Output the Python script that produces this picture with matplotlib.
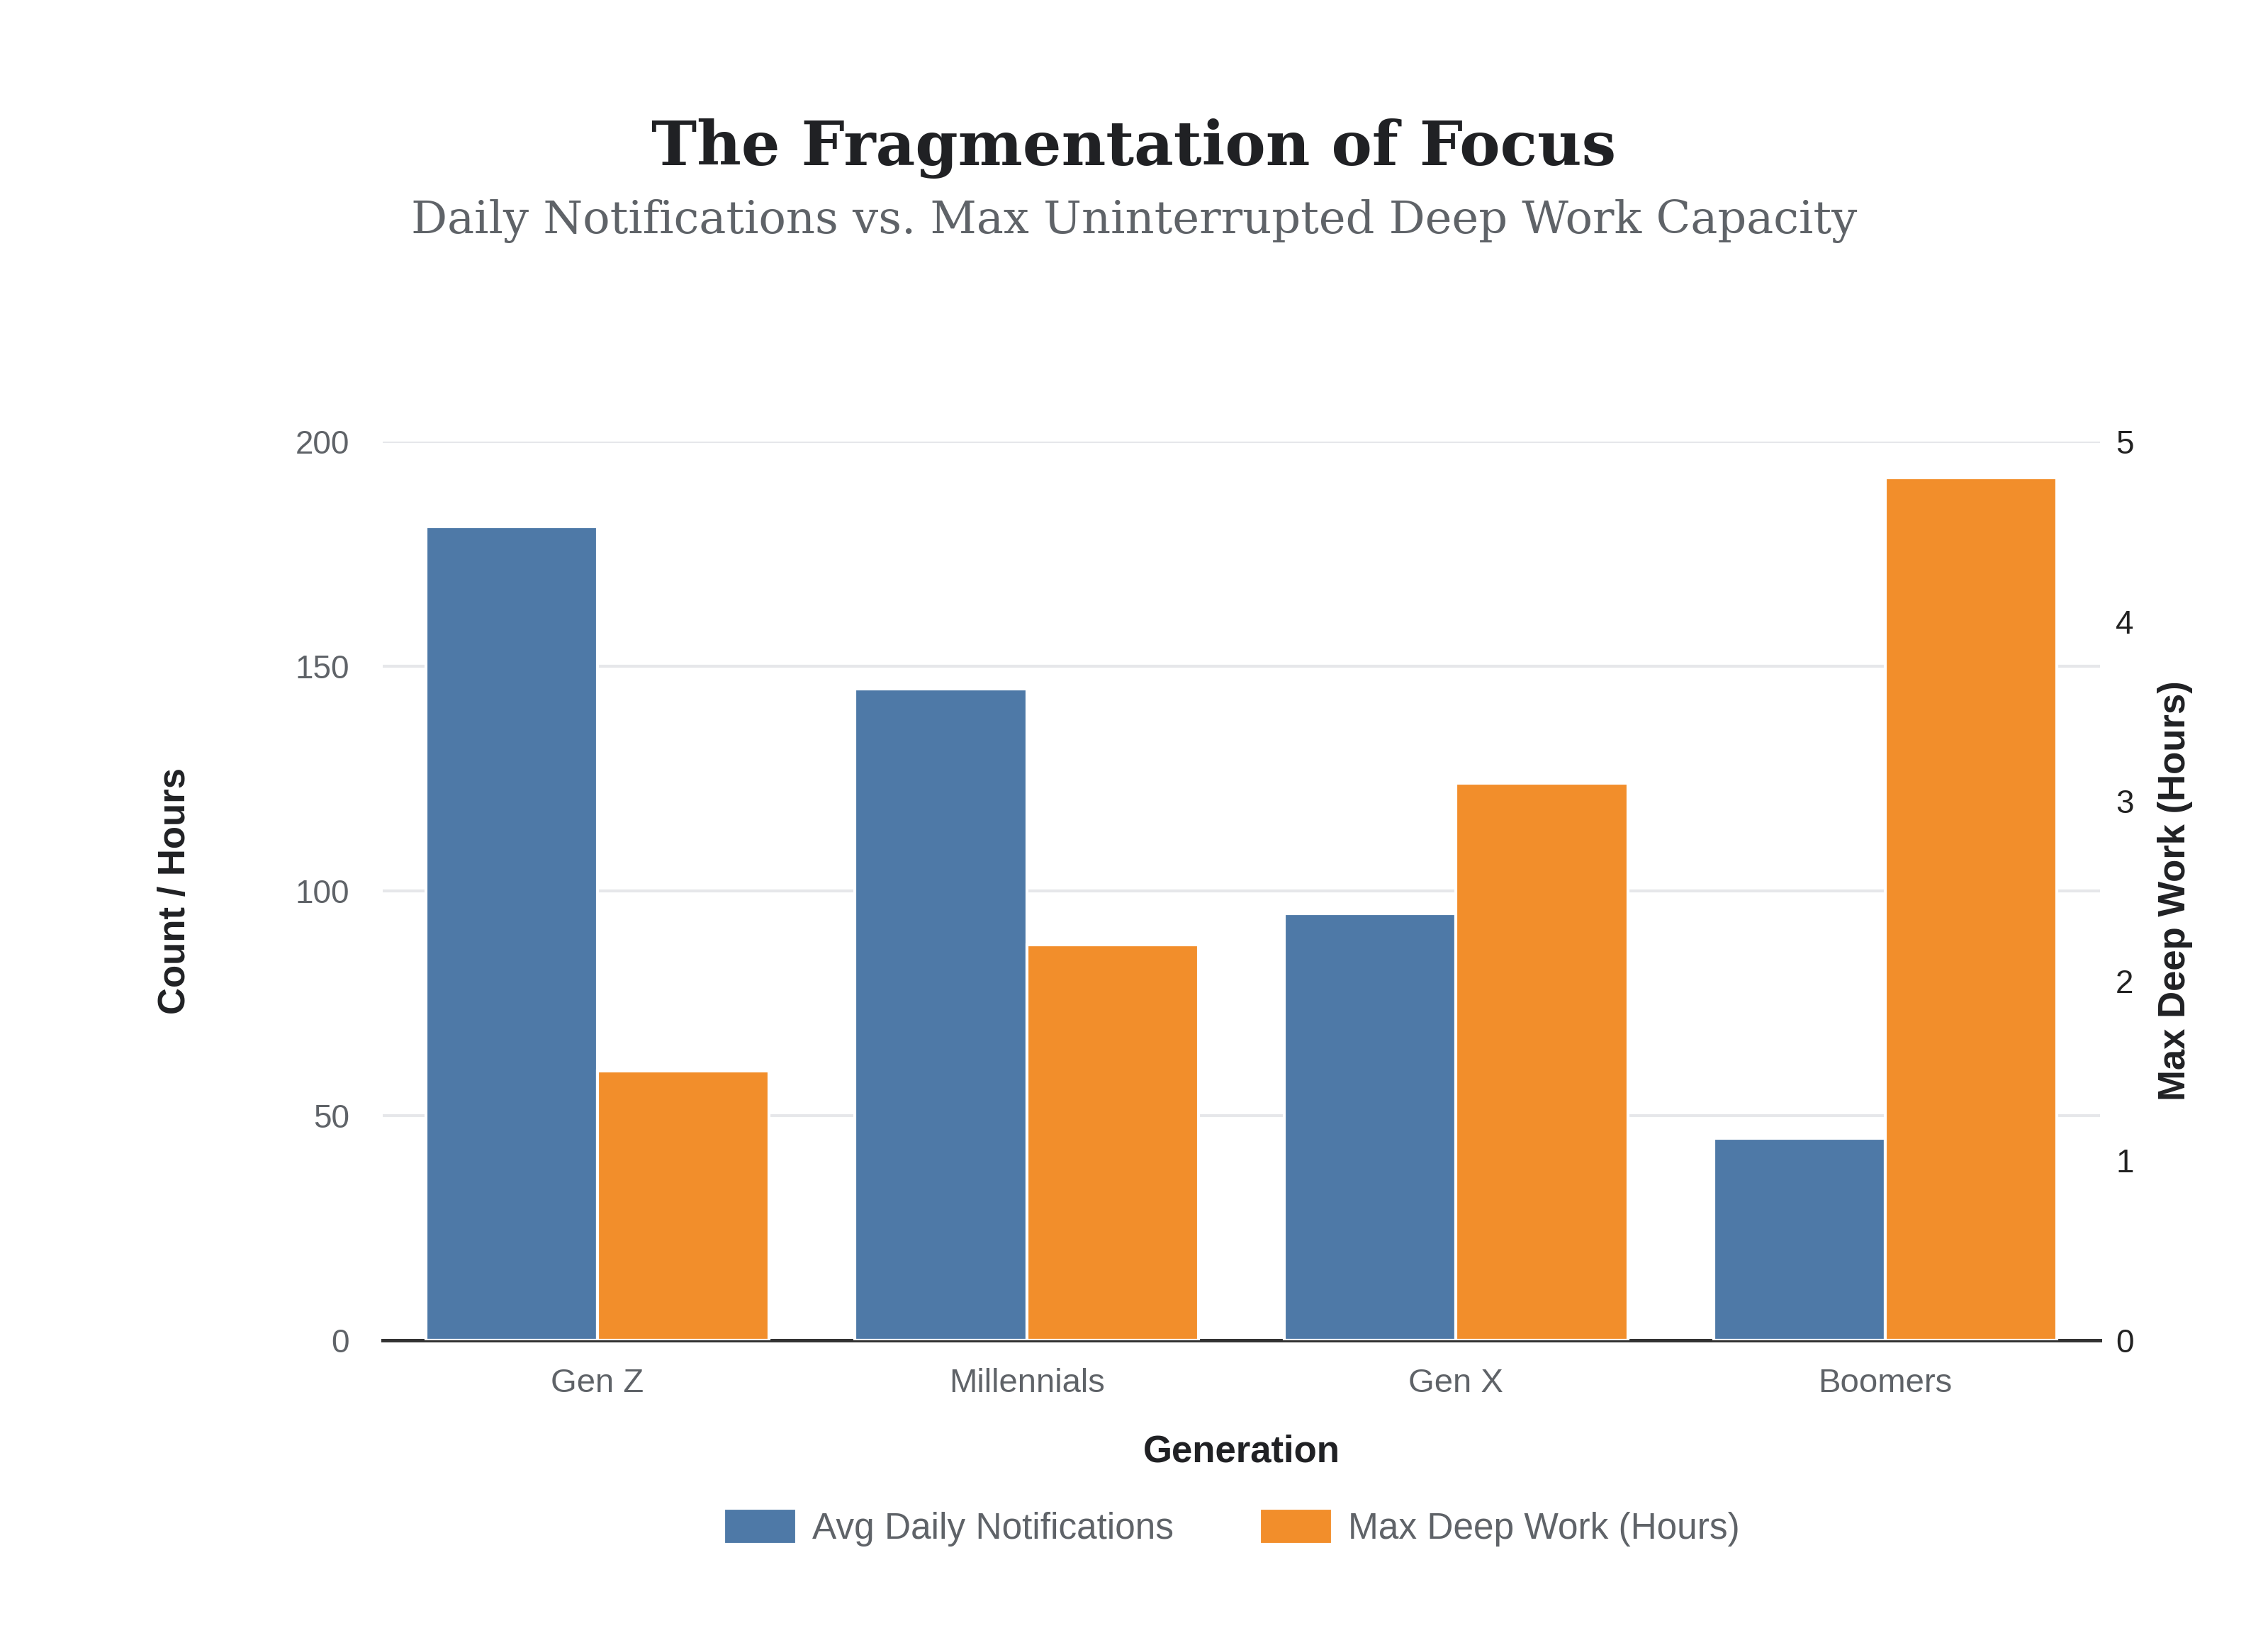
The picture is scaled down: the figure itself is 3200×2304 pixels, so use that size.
import numpy as np
import matplotlib
matplotlib.use("Agg")
import matplotlib.pyplot as plt

# data
generations = ["Gen Z", "Millennials", "Gen X", "Boomers"]
notifications = [181, 145, 95, 45]
deep_work_hours = [1.5, 2.2, 3.1, 4.8]

blue = "#4e79a7"
orange = "#f28e2b"
grey_txt = "#5f6368"
dark_txt = "#202124"

plt.rcParams["font.family"] = ["Liberation Sans", "DejaVu Sans"]

fig = plt.figure(figsize=(16, 11.52), dpi=200)
ax = fig.add_axes([540 / 3200, 1 - 1891 / 2304, (2963 - 540) / 3200, (1891 - 623) / 2304])
ax2 = ax.twinx()

x = np.arange(len(generations))
b1 = ax.bar(x - 0.2, notifications, 0.4, color=blue, edgecolor="white", linewidth=1.5,
            label="Avg Daily Notifications", zorder=3)
b2 = ax2.bar(x + 0.2, deep_work_hours, 0.4, color=orange, edgecolor="white", linewidth=1.5,
             label="Max Deep Work (Hours)", zorder=3)

ax.set_xlim(-0.5, 3.5)
ax.set_ylim(0, 200)
ax2.set_ylim(0, 5)
ax.set_yticks([0, 50, 100, 150, 200])
ax2.set_yticks([0, 1, 2, 3, 4, 5])

ax.set_axisbelow(True)
ax.grid(axis="y", color="#e6e7ea", linewidth=1.5)
ax.grid(axis="x", visible=False)

for a in (ax, ax2):
    for s in ("top", "left", "right"):
        a.spines[s].set_visible(False)
ax2.spines["bottom"].set_visible(False)
ax.spines["bottom"].set_color("#333333")
ax.spines["bottom"].set_linewidth(1.8)

ax.set_xticks(x)
ax.set_xticklabels(generations)
ax.tick_params(axis="x", length=0, pad=14, labelsize=17, labelcolor=grey_txt)
ax.tick_params(axis="y", length=0, pad=17, labelsize=16.5, labelcolor=grey_txt)
ax2.tick_params(axis="y", length=0, pad=8, labelsize=16.5, labelcolor="#222222")

ax.set_xlabel("Generation", fontsize=19, fontweight="bold", color=dark_txt, labelpad=18)
ax.set_ylabel("Count / Hours", fontsize=19, fontweight="bold", color=dark_txt, labelpad=52)
ax2.set_ylabel("Max Deep Work (Hours)", fontsize=19, fontweight="bold", color=dark_txt, labelpad=12)

fig.text(0.5, 1 - 210 / 2304, "The Fragmentation of Focus", ha="center", va="center",
         fontsize=31, fontweight="bold", color=dark_txt, family=["DejaVu Serif"])
fig.text(0.5, 1 - 312 / 2304, "Daily Notifications vs. Max Uninterrupted Deep Work Capacity",
         ha="center", va="center", fontsize=23, color=grey_txt, family=["DejaVu Serif"])

fig.legend(handles=[b1, b2], loc="center", bbox_to_anchor=(1738 / 3200, 1 - 2155 / 2304),
           ncol=2, frameon=False, fontsize=18.5, labelcolor=grey_txt,
           handlelength=2.0, handleheight=1.15, handletextpad=0.43, columnspacing=2.35)

fig.savefig("out.png", dpi=200, facecolor="white")
